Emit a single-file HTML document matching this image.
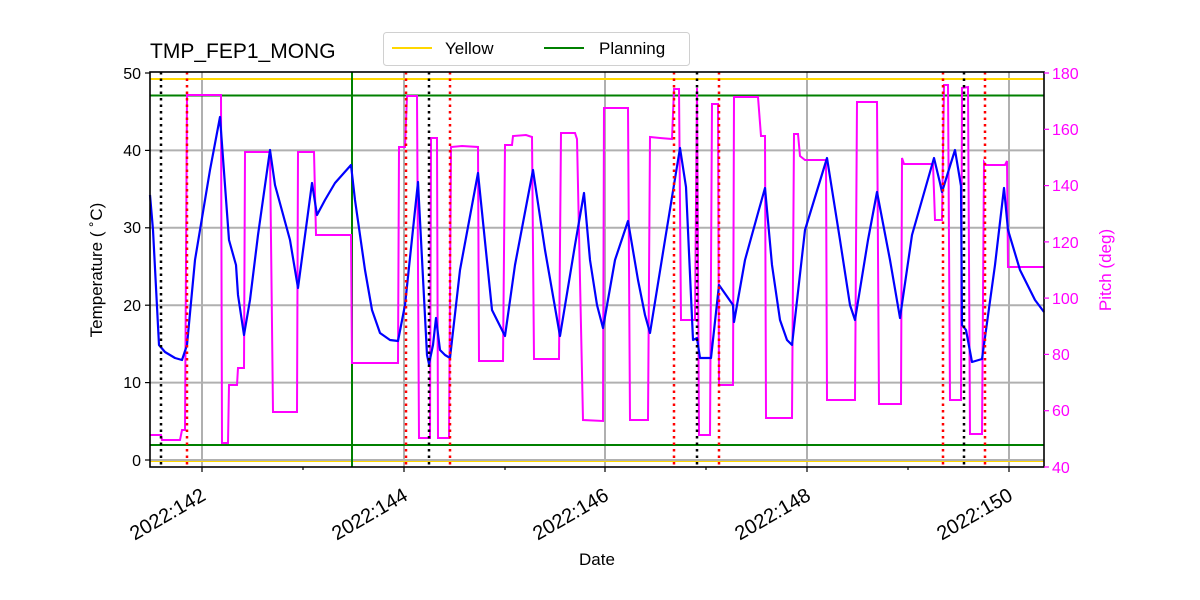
<!DOCTYPE html>
<html><head><meta charset="utf-8"><style>body{margin:0;background:#fff}svg{display:block;font-family:"Liberation Sans","DejaVu Sans",sans-serif}</style></head><body>
<svg width="1200" height="600" viewBox="0 0 1200 600" xmlns="http://www.w3.org/2000/svg">
<rect width="1200" height="600" fill="#fff"/>
<g stroke="#b0b0b0" stroke-width="2">
<line x1="202" y1="72" x2="202" y2="467"/><line x1="404" y1="72" x2="404" y2="467"/><line x1="605" y1="72" x2="605" y2="467"/><line x1="807" y1="72" x2="807" y2="467"/><line x1="1009" y1="72" x2="1009" y2="467"/>
<line x1="150" y1="460" x2="1044" y2="460"/><line x1="150" y1="382.6" x2="1044" y2="382.6"/><line x1="150" y1="305.2" x2="1044" y2="305.2"/><line x1="150" y1="227.8" x2="1044" y2="227.8"/><line x1="150" y1="150.4" x2="1044" y2="150.4"/>
</g>
<line x1="150" y1="461.5" x2="1044" y2="461.5" stroke="#ffd700" stroke-width="1"/>
<line x1="150" y1="79" x2="1044" y2="79" stroke="#ffd700" stroke-width="2"/>
<line x1="150" y1="95.5" x2="1044" y2="95.5" stroke="green" stroke-width="2"/>
<line x1="150" y1="445" x2="1044" y2="445" stroke="green" stroke-width="2"/>
<line x1="352" y1="72" x2="352" y2="467" stroke="green" stroke-width="2"/>
<polyline fill="none" stroke="#ff00ff" stroke-width="2" points="150,435 161,435 162,440 180,440 182,430 185,430 187,95 221,95 222,443 228,443 229,385 237,385 238,368 244,368 245,152 270,152 273,412 297,412 298,152 314,152 316,235 351,235 352,363 398,363 399,147 405,147 407,96 417,96 419,438 430,438 431,138 437,138 438,438 449,438 451,147 462,146 478,147 479,361 503,361 505,145 512,145 513,136 526,135 532,137 534,359 559,359 561,133 575,133 577,139 583,420 603,421 604,108 628,108 630,420 648,420 650,137 660,138 672,139 674,89 679,89 681,320 695,320 697,88 699,435 710,435 712,104 718,104 719,385 733,385 734,97 758,97 761,136 765,136 766,418 792,418 794,134 798,134 800,156 805,160 826,160 827,400 855,400 857,102 877,102 879,404 901,404 902,158 904,164 933,164 935,220 942,220 944,85 948,85 950,400 961,400 962,88 968,87 970,434 982,434 984,162 986,165 1005,165 1007,161 1008,267 1044,267"/>
<polyline fill="none" stroke="#0000ff" stroke-width="2.2" stroke-linejoin="round" points="150,195 153,230 159,345 165,352 175,358 182,360 187,345 195,260 210,170 220,117 229,240 236,265 238,295 244,335 250,300 258,235 270,150 275,185 290,240 298,288 312,183 317,215 325,200 335,183 351,165 355,200 365,270 372,310 380,333 390,340 398,341 405,305 418,182 427,355 429,364 433,345 436,318 440,350 445,355 450,358 460,270 478,173 492,310 505,336 515,265 533,170 545,250 560,336 575,245 584,193 590,260 597,305 603,328 615,260 628,221 638,280 645,315 650,333 665,240 680,148 686,187 693,340 697,338 700,358 711,358 719,285 733,305 734,322 745,260 758,213 765,188 772,265 780,320 787,340 792,345 805,230 827,158 840,240 850,305 855,320 868,240 877,192 890,260 900,318 912,235 934,158 940,183 942,192 950,166 955,150 961,186 962,325 966,330 972,362 982,359 995,265 1004,188 1008,230 1020,270 1035,300 1044,312"/>
<g stroke="#000" stroke-width="2.5" stroke-dasharray="2.5,4"><line x1="161" y1="72" x2="161" y2="467"/><line x1="429" y1="72" x2="429" y2="467"/><line x1="697" y1="72" x2="697" y2="467"/><line x1="964" y1="72" x2="964" y2="467"/></g>
<g stroke="#ff0000" stroke-width="2.5" stroke-dasharray="2.5,4"><line x1="187" y1="72" x2="187" y2="467"/><line x1="406" y1="72" x2="406" y2="467"/><line x1="450" y1="72" x2="450" y2="467"/><line x1="674" y1="72" x2="674" y2="467"/><line x1="719" y1="72" x2="719" y2="467"/><line x1="943" y1="72" x2="943" y2="467"/><line x1="985" y1="72" x2="985" y2="467"/></g>
<rect x="150" y="72" width="894" height="395" fill="none" stroke="#000" stroke-width="1.6"/>
<g stroke="#000" stroke-width="1.2">
<line x1="145" y1="460" x2="150" y2="460"/><line x1="145" y1="382.6" x2="150" y2="382.6"/><line x1="145" y1="305.2" x2="150" y2="305.2"/><line x1="145" y1="227.8" x2="150" y2="227.8"/><line x1="145" y1="150.4" x2="150" y2="150.4"/><line x1="145" y1="73" x2="150" y2="73"/>
<line x1="202" y1="467" x2="202" y2="472"/><line x1="404" y1="467" x2="404" y2="472"/><line x1="605" y1="467" x2="605" y2="472"/><line x1="807" y1="467" x2="807" y2="472"/><line x1="1009" y1="467" x2="1009" y2="472"/>
<line x1="303" y1="467" x2="303" y2="470"/><line x1="505" y1="467" x2="505" y2="470"/><line x1="706" y1="467" x2="706" y2="470"/><line x1="908" y1="467" x2="908" y2="470"/>
</g>
<g stroke="#ff00ff" stroke-width="1.2"><line x1="1044" y1="73" x2="1049" y2="73"/><line x1="1044" y1="129.3" x2="1049" y2="129.3"/><line x1="1044" y1="185.6" x2="1049" y2="185.6"/><line x1="1044" y1="241.9" x2="1049" y2="241.9"/><line x1="1044" y1="298.1" x2="1049" y2="298.1"/><line x1="1044" y1="354.4" x2="1049" y2="354.4"/><line x1="1044" y1="410.7" x2="1049" y2="410.7"/><line x1="1044" y1="467" x2="1049" y2="467"/></g>
<g font-size="16" fill="#000" text-anchor="end">
<text x="141" y="466">0</text><text x="141" y="388">10</text><text x="141" y="311">20</text><text x="141" y="233">30</text><text x="141" y="156">40</text><text x="141" y="79">50</text>
</g>
<g font-size="16" fill="#ff00ff">
<text x="1052" y="79">180</text><text x="1052" y="135">160</text><text x="1052" y="191">140</text><text x="1052" y="248">120</text><text x="1052" y="304">100</text><text x="1052" y="360">80</text><text x="1052" y="416">60</text><text x="1052" y="473">40</text>
</g>
<g font-size="20" fill="#000" text-anchor="end">
<text transform="translate(207,499) rotate(-30)">2022:142</text><text transform="translate(409,499) rotate(-30)">2022:144</text><text transform="translate(610,499) rotate(-30)">2022:146</text><text transform="translate(812,499) rotate(-30)">2022:148</text><text transform="translate(1014,499) rotate(-30)">2022:150</text>
</g>
<text x="597" y="565" font-size="17" text-anchor="middle">Date</text>
<text transform="translate(102,270) rotate(-90)" font-size="17" text-anchor="middle">Temperature (<tspan>&#8201;</tspan><tspan baseline-shift="super" font-size="12">∘</tspan>C)</text>
<text transform="translate(1111,270) rotate(-90)" font-size="17" text-anchor="middle" fill="#ff00ff">Pitch (deg)</text>
<text x="150" y="58" font-size="21">TMP_FEP1_MONG</text>
<rect x="383.5" y="32.5" width="306" height="33" rx="3" fill="#fff" stroke="#d0d0d0"/>
<line x1="392" y1="48" x2="432" y2="48" stroke="#ffd700" stroke-width="2"/>
<text x="445" y="54" font-size="17">Yellow</text>
<line x1="544" y1="48" x2="584" y2="48" stroke="green" stroke-width="2"/>
<text x="599" y="54" font-size="17">Planning</text>
</svg>
</body></html>
